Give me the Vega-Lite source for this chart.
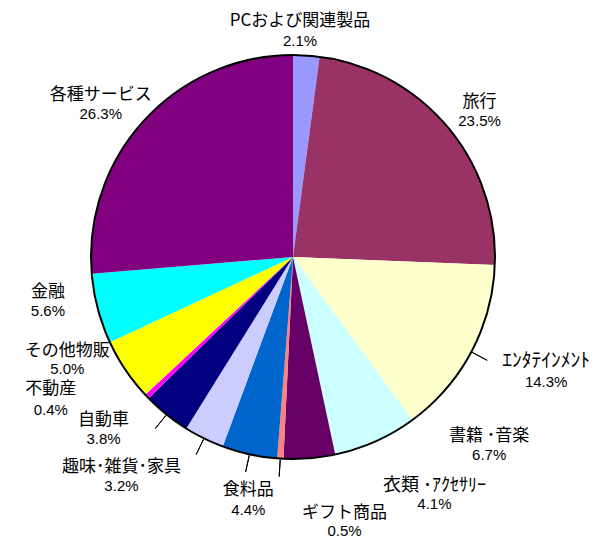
{
  "$schema": "https://vega.github.io/schema/vega-lite/v6.json",
  "width": 586,
  "height": 514,
  "padding": {"left": 0, "top": 0, "right": 24, "bottom": 22},
  "autosize": "none",
  "background": "white",
  "config": {"view": {"stroke": null}},
  "data": {"values": [
    {"idx": 1, "name": "PCおよび関連製品", "pct": 2.1},
    {"idx": 2, "name": "旅行", "pct": 23.5},
    {"idx": 3, "name": "ｴﾝﾀﾃｲﾝﾒﾝﾄ", "pct": 14.3},
    {"idx": 4, "name": "書籍 ･音楽", "pct": 6.7},
    {"idx": 5, "name": "衣類 ･ｱｸｾｻﾘｰ", "pct": 4.1},
    {"idx": 6, "name": "ギフト商品", "pct": 0.5},
    {"idx": 7, "name": "食料品", "pct": 4.4},
    {"idx": 8, "name": "趣味･雑貨･家具", "pct": 3.2},
    {"idx": 9, "name": "自動車", "pct": 3.8},
    {"idx": 10, "name": "不動産", "pct": 0.4},
    {"idx": 11, "name": "その他物販", "pct": 5.0},
    {"idx": 12, "name": "金融", "pct": 5.6},
    {"idx": 13, "name": "各種サービス", "pct": 26.3}
  ]},
  "transform": [
    {"stack": "pct", "groupby": [], "sort": [{"field": "idx", "order": "ascending"}], "as": ["s0", "s1"]},
    {"calculate": "(datum.s0 + datum.s1) / 2", "as": "mid"},
    {"calculate": "format(datum.pct, '.1f') + '%'", "as": "pctText"}
  ],
  "layer": [
    {
      "mark": {"type": "arc", "radius": 202},
      "encoding": {
        "theta": {"field": "s0", "type": "quantitative", "stack": null, "scale": {"domain": [0, 99.9]}},
        "theta2": {"field": "s1"},
        "color": {
          "field": "name", "type": "nominal", "legend": null,
          "scale": {
            "domain": ["PCおよび関連製品", "旅行", "ｴﾝﾀﾃｲﾝﾒﾝﾄ", "書籍 ･音楽", "衣類 ･ｱｸｾｻﾘｰ", "ギフト商品", "食料品", "趣味･雑貨･家具", "自動車", "不動産", "その他物販", "金融", "各種サービス"],
            "range": ["#9999FF", "#993366", "#FFFFCC", "#CCFFFF", "#660066", "#FF8080", "#0066CC", "#CCCCFF", "#000080", "#FF00FF", "#FFFF00", "#00FFFF", "#800080"]
          }
        }
      }
    },
    {
      "data": {"values": [{"k": 1}]},
      "mark": {"type": "arc", "radius": 202, "theta": 0, "theta2": 6.2832, "fill": null, "stroke": "black", "strokeWidth": 2},
      "encoding": {}
    },
    {
      "transform": [{"filter": "indexof([3, 6, 7, 8, 9], datum.idx) >= 0"}],
      "mark": {"type": "arc", "radius": 220, "radius2": 203, "fill": null, "stroke": "black", "strokeWidth": 1},
      "encoding": {
        "theta": {"field": "mid", "type": "quantitative", "stack": null},
        "theta2": {"field": "mid"}
      }
    },
    {"transform": [{"filter": "datum.idx == 1"}], "layer": [
      {"mark": {"type": "text", "radius": 226, "thetaOffset": -0.035, "dy": -10, "fontSize": 17, "font": "Noto Sans CJK JP"}, "encoding": {"theta": {"field": "mid", "type": "quantitative", "stack": null}, "text": {"field": "name"}}},
      {"mark": {"type": "text", "radius": 226, "thetaOffset": -0.035, "dy": 10, "fontSize": 15, "font": "Liberation Sans"}, "encoding": {"theta": {"field": "mid", "type": "quantitative", "stack": null}, "text": {"field": "pctText"}}}
    ]},
    {"transform": [{"filter": "datum.idx == 2"}], "layer": [
      {"mark": {"type": "text", "radius": 237, "thetaOffset": 0.035, "dy": -9, "fontSize": 17, "font": "Noto Sans CJK JP"}, "encoding": {"theta": {"field": "mid", "type": "quantitative", "stack": null}, "text": {"field": "name"}}},
      {"mark": {"type": "text", "radius": 237, "thetaOffset": 0.035, "dy": 10, "fontSize": 15, "font": "Liberation Sans"}, "encoding": {"theta": {"field": "mid", "type": "quantitative", "stack": null}, "text": {"field": "pctText"}}}
    ]},
    {"transform": [{"filter": "datum.idx == 3"}], "layer": [
      {"mark": {"type": "text", "radius": 278, "thetaOffset": -0.063, "dy": -11, "fontSize": 19.5, "font": "Noto Sans CJK JP"}, "encoding": {"theta": {"field": "mid", "type": "quantitative", "stack": null}, "text": {"field": "name"}}},
      {"mark": {"type": "text", "radius": 278, "thetaOffset": -0.063, "dy": 10, "fontSize": 15, "font": "Liberation Sans"}, "encoding": {"theta": {"field": "mid", "type": "quantitative", "stack": null}, "text": {"field": "pctText"}}}
    ]},
    {"transform": [{"filter": "datum.idx == 4"}], "layer": [
      {"mark": {"type": "text", "radius": 272, "thetaOffset": -0.384, "dy": -9, "fontSize": 17, "font": "Noto Sans CJK JP"}, "encoding": {"theta": {"field": "mid", "type": "quantitative", "stack": null}, "text": {"field": "name"}}},
      {"mark": {"type": "text", "radius": 272, "thetaOffset": -0.384, "dy": 10, "fontSize": 15, "font": "Liberation Sans"}, "encoding": {"theta": {"field": "mid", "type": "quantitative", "stack": null}, "text": {"field": "pctText"}}}
    ]},
    {"transform": [{"filter": "datum.idx == 5"}], "layer": [
      {"mark": {"type": "text", "radius": 277, "thetaOffset": -0.454, "dy": -9, "fontSize": 18, "font": "Noto Sans CJK JP"}, "encoding": {"theta": {"field": "mid", "type": "quantitative", "stack": null}, "text": {"field": "name"}}},
      {"mark": {"type": "text", "radius": 277, "thetaOffset": -0.454, "dy": 9, "fontSize": 15, "font": "Liberation Sans"}, "encoding": {"theta": {"field": "mid", "type": "quantitative", "stack": null}, "text": {"field": "pctText"}}}
    ]},
    {"transform": [{"filter": "datum.idx == 6"}], "layer": [
      {"mark": {"type": "text", "radius": 270, "thetaOffset": -0.255, "dy": -9, "fontSize": 17, "font": "Noto Sans CJK JP"}, "encoding": {"theta": {"field": "mid", "type": "quantitative", "stack": null}, "text": {"field": "name"}}},
      {"mark": {"type": "text", "radius": 270, "thetaOffset": -0.255, "dy": 9, "fontSize": 15, "font": "Liberation Sans"}, "encoding": {"theta": {"field": "mid", "type": "quantitative", "stack": null}, "text": {"field": "pctText"}}}
    ]},
    {"transform": [{"filter": "datum.idx == 7"}], "layer": [
      {"mark": {"type": "text", "radius": 247, "thetaOffset": -0.035, "dy": -10, "fontSize": 17, "font": "Noto Sans CJK JP"}, "encoding": {"theta": {"field": "mid", "type": "quantitative", "stack": null}, "text": {"field": "name"}}},
      {"mark": {"type": "text", "radius": 247, "thetaOffset": -0.035, "dy": 10, "fontSize": 15, "font": "Liberation Sans"}, "encoding": {"theta": {"field": "mid", "type": "quantitative", "stack": null}, "text": {"field": "pctText"}}}
    ]},
    {"transform": [{"filter": "datum.idx == 8"}], "layer": [
      {"mark": {"type": "text", "radius": 278, "thetaOffset": 0.209, "dy": -9, "fontSize": 17, "font": "Noto Sans CJK JP"}, "encoding": {"theta": {"field": "mid", "type": "quantitative", "stack": null}, "text": {"field": "name"}}},
      {"mark": {"type": "text", "radius": 278, "thetaOffset": 0.209, "dy": 10, "fontSize": 15, "font": "Liberation Sans"}, "encoding": {"theta": {"field": "mid", "type": "quantitative", "stack": null}, "text": {"field": "pctText"}}}
    ]},
    {"transform": [{"filter": "datum.idx == 9"}], "layer": [
      {"mark": {"type": "text", "radius": 256, "thetaOffset": 0.157, "dy": -9, "fontSize": 17, "font": "Noto Sans CJK JP"}, "encoding": {"theta": {"field": "mid", "type": "quantitative", "stack": null}, "text": {"field": "name"}}},
      {"mark": {"type": "text", "radius": 256, "thetaOffset": 0.157, "dy": 10, "fontSize": 15, "font": "Liberation Sans"}, "encoding": {"theta": {"field": "mid", "type": "quantitative", "stack": null}, "text": {"field": "pctText"}}}
    ]},
    {"transform": [{"filter": "datum.idx == 10"}], "layer": [
      {"mark": {"type": "text", "radius": 280, "thetaOffset": 0.237, "dy": -8, "fontSize": 17, "font": "Noto Sans CJK JP"}, "encoding": {"theta": {"field": "mid", "type": "quantitative", "stack": null}, "text": {"field": "name"}}},
      {"mark": {"type": "text", "radius": 280, "thetaOffset": 0.237, "dy": 13, "fontSize": 15, "font": "Liberation Sans"}, "encoding": {"theta": {"field": "mid", "type": "quantitative", "stack": null}, "text": {"field": "pctText"}}}
    ]},
    {"transform": [{"filter": "datum.idx == 11"}], "layer": [
      {"mark": {"type": "text", "radius": 249, "thetaOffset": 0.157, "dy": -11, "fontSize": 17, "font": "Noto Sans CJK JP"}, "encoding": {"theta": {"field": "mid", "type": "quantitative", "stack": null}, "text": {"field": "name"}}},
      {"mark": {"type": "text", "radius": 249, "thetaOffset": 0.157, "dy": 7, "fontSize": 15, "font": "Liberation Sans"}, "encoding": {"theta": {"field": "mid", "type": "quantitative", "stack": null}, "text": {"field": "pctText"}}}
    ]},
    {"transform": [{"filter": "datum.idx == 12"}], "layer": [
      {"mark": {"type": "text", "radius": 249, "thetaOffset": 0.082, "dy": -9, "fontSize": 17, "font": "Noto Sans CJK JP"}, "encoding": {"theta": {"field": "mid", "type": "quantitative", "stack": null}, "text": {"field": "name"}}},
      {"mark": {"type": "text", "radius": 249, "thetaOffset": 0.082, "dy": 10, "fontSize": 15, "font": "Liberation Sans"}, "encoding": {"theta": {"field": "mid", "type": "quantitative", "stack": null}, "text": {"field": "pctText"}}}
    ]},
    {"transform": [{"filter": "datum.idx == 13"}], "layer": [
      {"mark": {"type": "text", "radius": 246, "thetaOffset": -0.07, "dy": -9, "fontSize": 17, "font": "Noto Sans CJK JP"}, "encoding": {"theta": {"field": "mid", "type": "quantitative", "stack": null}, "text": {"field": "name"}}},
      {"mark": {"type": "text", "radius": 246, "thetaOffset": -0.07, "dy": 10, "fontSize": 15, "font": "Liberation Sans"}, "encoding": {"theta": {"field": "mid", "type": "quantitative", "stack": null}, "text": {"field": "pctText"}}}
    ]}
  ]
}
